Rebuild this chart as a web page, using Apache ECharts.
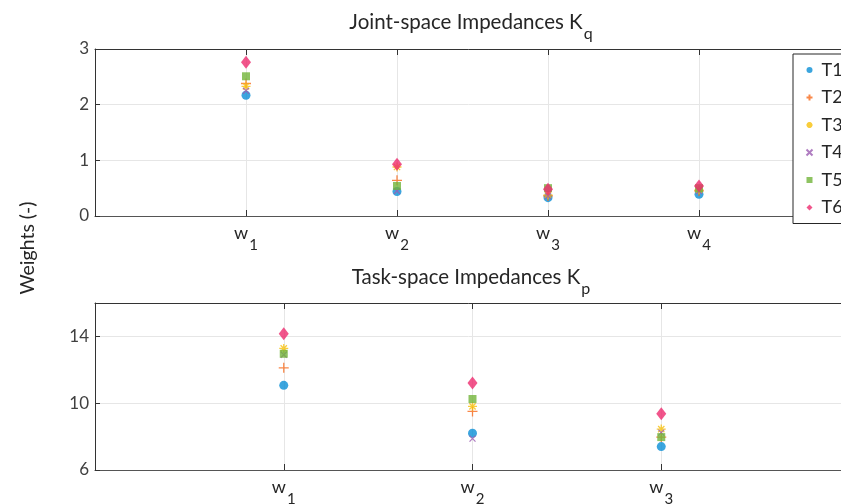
<!DOCTYPE html>
<html>
<head>
<meta charset="utf-8">
<script src="https://cdn.jsdelivr.net/npm/echarts@6/dist/echarts.min.js"></script>
<style>
  html, body { margin: 0; padding: 0; background: #fff; }
  #chart { width: 841px; height: 504px; }
</style>
</head>
<body>
<div id="chart"></div>
<script>
// series names + colours
const names = ['T1', 'T2', 'T3', 'T4', 'T5', 'T6']
const colors = ['#0a8fd6', '#f76a1c', '#f7c10a', '#9c5cb2', '#72b43a', '#ee2a6e']

// joint-space weights w1..w4
const jointT1 = [2.17, 0.44, 0.33, 0.39]
const jointT2 = [2.38, 0.64, 0.36, 0.45]
const jointT3 = [2.33, 0.88, 0.38, 0.47]
const jointT4 = [2.25, 0.45, 0.36, 0.45]
const jointT5 = [2.51, 0.54, 0.50, 0.50]
const jointT6 = [2.76, 0.93, 0.48, 0.54]

// task-space weights w1..w3
const taskT1 = [11.07, 8.20, 7.40]
const taskT2 = [12.12, 9.51, 7.97]
const taskT3 = [13.28, 9.81, 8.45]
const taskT4 = [12.90, 7.88, 8.24]
const taskT5 = [12.96, 10.25, 7.97]
const taskT6 = [14.16, 11.21, 9.37]

const jointData = [jointT1, jointT2, jointT3, jointT4, jointT5, jointT6]
const taskData = [taskT1, taskT2, taskT3, taskT4, taskT5, taskT6]

const FONT = 'Lato'
const TXT = '#262626'

// marker styles, matlab-ish: o + * x s d
const symbols = [
  { symbol: 'circle', size: 9, stroke: false },
  { symbol: 'path://M5,0L5,10M0,5L10,5', size: 10, stroke: true },
  { symbol: 'path://M5,0L5,10M0,5L10,5M1.5,1.5L8.5,8.5M8.5,1.5L1.5,8.5', size: 9, stroke: true },
  { symbol: 'path://M0,0L10,10M10,0L0,10', size: 6, stroke: true },
  { symbol: 'rect', size: 8, stroke: false },
  { symbol: 'diamond', size: [10, 13], stroke: false },
]

function makeSeries(data, xIdx, yIdx) {
  return data.map((vals, i) => {
    const s = symbols[i]
    return {
      name: names[i],
      type: 'scatter',
      xAxisIndex: xIdx,
      yAxisIndex: yIdx,
      symbol: s.symbol,
      symbolSize: s.size,
      itemStyle: s.stroke
        ? { color: 'none', borderColor: colors[i], borderWidth: 1.3 }
        : { color: colors[i] },
      data: vals.map((v, k) => [k + 1, v]),
    }
  })
}

// subscript-ish rich text
const subRich = (big, small, fill) => ({
  w: { fontFamily: FONT, fontSize: big, [fill]: TXT, padding: [0, 0, 12, 0] },
  s: { fontFamily: FONT, fontSize: small, [fill]: TXT, padding: [12, 0, 0, 1] },
})

function xAxes(grid, max, lastLabel) {
  return [
    {
      type: 'value', gridIndex: grid, min: 0, max: max, interval: 1, position: 'bottom',
      axisLine: { lineStyle: { color: '#555', width: 1.2 } },
      axisTick: { inside: true, length: 6, lineStyle: { color: '#333' } },
      splitLine: { show: true, lineStyle: { color: '#e6e6e6' } },
      axisLabel: {
        margin: 8,
        formatter: v => (v >= 1 && v <= lastLabel) ? '{w|w}{s|' + v + '}' : '',
        rich: subRich(18, 15, 'color'),
      },
    },
    {
      type: 'value', gridIndex: grid, min: 0, max: max, interval: 1, position: 'top',
      axisLine: { lineStyle: { color: '#333', width: 1 } },
      axisTick: { inside: true, length: 6, lineStyle: { color: '#333' } },
      splitLine: { show: false },
      axisLabel: { show: false },
    },
  ]
}

function yAxis(grid, min, max, step, hide) {
  return {
    type: 'value', gridIndex: grid, min: min, max: max, interval: step,
    axisLine: { show: true, lineStyle: { color: '#333' } },
    axisTick: { show: true, inside: true, length: 5, lineStyle: { color: '#333' } },
    splitLine: { lineStyle: { color: '#e6e6e6' } },
    axisLabel: {
      fontFamily: FONT, fontSize: 17, color: '#404040', margin: 6,
      formatter: v => v === hide ? '' : v,
    },
  }
}

const chart = echarts.init(document.getElementById('chart'))

chart.setOption({
  animation: false,
  textStyle: { fontFamily: FONT },
  grid: [
    { left: 95, right: -9, top: 49, height: 167, outerBoundsMode: 'none' },
    { left: 95, right: -9, top: 303, height: 167, outerBoundsMode: 'none' },
  ],
  xAxis: [].concat(xAxes(0, 5, 4), xAxes(1, 4, 3)),
  yAxis: [yAxis(0, 0, 3, 1, null), yAxis(1, 6, 16, 4, 16)],
  legend: {
    orient: 'vertical',
    left: 793,
    top: 54,
    data: names,
    itemWidth: 6,
    itemHeight: 6,
    itemGap: 7.5,
    padding: [6, 40, 6, 11],
    borderColor: '#262626',
    borderWidth: 1,
    backgroundColor: '#fff',
    textStyle: { fontFamily: FONT, fontSize: 18, color: TXT, lineHeight: 20, padding: [0, 0, 0, 4] },
  },
  graphic: [
    {
      type: 'text', x: 471, y: 28, z: 10,
      style: {
        text: '{w|Joint-space Impedances K}{s|q}',
        textAlign: 'center', textVerticalAlign: 'middle',
        rich: subRich(20.5, 16, 'fill'),
      },
    },
    {
      type: 'text', x: 471, y: 283, z: 10,
      style: {
        text: '{w|Task-space Impedances K}{s|p}',
        textAlign: 'center', textVerticalAlign: 'middle',
        rich: subRich(20.5, 16, 'fill'),
      },
    },
    {
      type: 'text', x: 28, y: 248, rotation: Math.PI / 2,
      style: {
        text: 'Weights (-)', fontFamily: FONT, fontSize: 19.5, fill: TXT,
        textAlign: 'center', textVerticalAlign: 'middle',
      },
    },
  ],
  series: [].concat(makeSeries(jointData, 0, 0), makeSeries(taskData, 2, 1)),
})
</script>
</body>
</html>
